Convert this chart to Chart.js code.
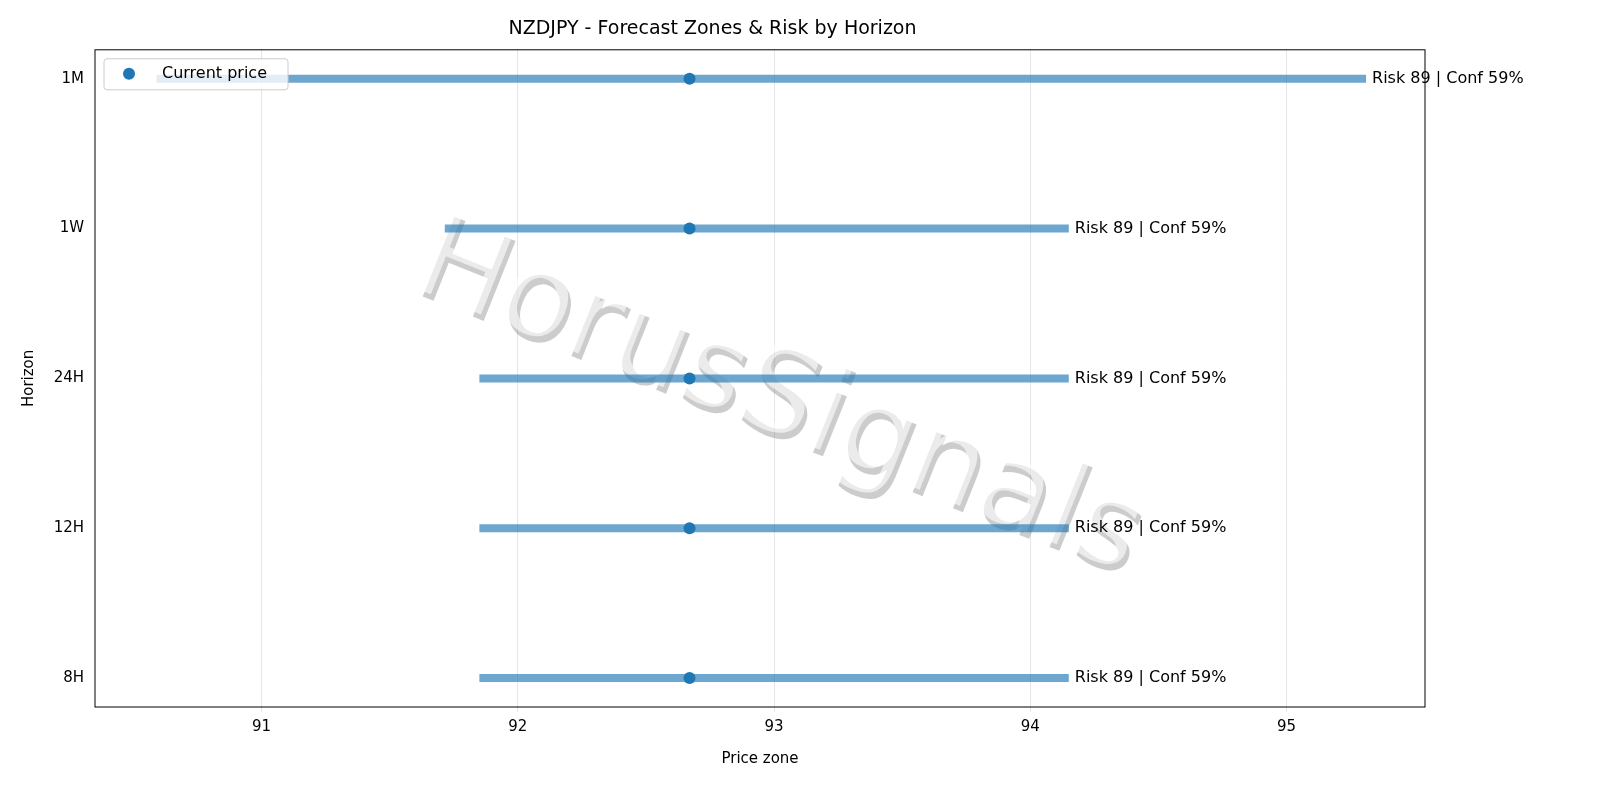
<!DOCTYPE html>
<html lang="en">
<head>
<meta charset="UTF-8">
<title>NZDJPY Forecast Zones</title>
<script src="https://cdn.jsdelivr.net/npm/chart.js"></script>
<style>
  html, body { margin: 0; padding: 0; overflow: hidden; background: #fff; }
  #chart { display: block; width: 1600px; height: 800px; }
</style>
</head>
<body>
<canvas id="chart" width="1600" height="800"></canvas>
<script>
// Data (y index 0 = 8H at the bottom)
const horizons = ['8H', '12H', '24H', '1W', '1M'];
const zoneLow = [91.85, 91.85, 91.85, 91.715, 90.59];
const zoneHigh = [94.15, 94.15, 94.15, 94.15, 95.31];
const currentPrice = [92.67, 92.67, 92.67, 92.67, 92.67];
const riskLabels = ['Risk 89 | Conf 59%', 'Risk 89 | Conf 59%', 'Risk 89 | Conf 59%', 'Risk 89 | Conf 59%', 'Risk 89 | Conf 59%'];
const xTicks = [91, 92, 93, 94, 95];

const FONT = 'DejaVu Sans';
Chart.defaults.font.family = FONT;
Chart.defaults.color = '#000';

const datasets = horizons.map((h, i) => ({
    label: h,
    data: [{x: zoneLow[i], y: i}, {x: zoneHigh[i], y: i}],
    showLine: true,
    borderColor: 'rgba(31,119,180,0.65)',
    borderWidth: 8,
    borderCapStyle: 'butt',
    pointRadius: 0,
    order: 2
}));
datasets.push({
    label: 'Current price',
    data: currentPrice.map((v, i) => ({x: v, y: i})),
    showLine: false,
    pointRadius: 6,
    pointBackgroundColor: '#1f77b4',
    pointBorderWidth: 0,
    order: 1
});

const extras = {
    id: 'extras',
    beforeDatasetsDraw(chart) {
        const {ctx} = chart;
        // watermark
        ctx.save();
        ctx.translate(778, 400);
        ctx.rotate(0.38);
        ctx.font = '118px ' + FONT;
        ctx.textAlign = 'center';
        ctx.textBaseline = 'middle';
        ctx.fillStyle = 'rgba(110,110,110,0.35)';
        ctx.fillText('HorusSignals', 5, 5);
        ctx.fillStyle = 'rgba(255,255,255,0.6)';
        ctx.fillText('HorusSignals', 0, 0);
        ctx.restore();
    },
    afterDatasetsDraw(chart) {
        const {ctx, scales: {x, y}, chartArea: a} = chart;
        ctx.save();
        ctx.font = '16px ' + FONT;
        ctx.fillStyle = '#000';
        ctx.textBaseline = 'middle';
        horizons.forEach((h, i) => {
            ctx.fillText(riskLabels[i], x.getPixelForValue(zoneHigh[i]) + 6, y.getPixelForValue(i));
        });
        // frame
        ctx.strokeStyle = '#000';
        ctx.lineWidth = 1;
        ctx.strokeRect(a.left, a.top, a.right - a.left, a.bottom - a.top);
        // legend
        ctx.fillStyle = 'rgba(255,255,255,0.8)';
        ctx.strokeStyle = '#ccc';
        ctx.beginPath();
        ctx.roundRect(a.left + 9, a.top + 9, 184, 31, 3);
        ctx.fill();
        ctx.stroke();
        ctx.fillStyle = '#1f77b4';
        ctx.beginPath();
        ctx.arc(a.left + 34, a.top + 24, 6, 0, Math.PI * 2);
        ctx.fill();
        ctx.fillStyle = '#000';
        ctx.fillText('Current price', a.left + 67, a.top + 24);
        ctx.restore();
    }
};

new Chart(document.getElementById('chart'), {
    type: 'scatter',
    data: {datasets},
    plugins: [extras],
    options: {
        responsive: false,
        devicePixelRatio: 1,
        animation: false,
        layout: {padding: {top: 0, right: 175, bottom: 0, left: 0}},
        plugins: {
            legend: {display: false},
            tooltip: {enabled: false},
            title: {display: true, text: 'NZDJPY - Forecast Zones & Risk by Horizon',
                    font: {size: 19, weight: 'normal'}, padding: {top: 18, bottom: 9}}
        },
        scales: {
            x: {
                min: 90.35, max: 95.54,
                afterBuildTicks: s => { s.ticks = xTicks.map(v => ({value: v})); },
                ticks: {font: {size: 15}, padding: 6},
                grid: {color: '#e5e5e5', drawTicks: true, tickLength: 5},
                border: {display: false},
                title: {display: true, text: 'Price zone', font: {size: 15}, padding: {top: 4, bottom: 32}},
                afterFit: s => { s.height = 93; }
            },
            y: {
                min: -0.193, max: 4.193,
                afterBuildTicks: s => { s.ticks = horizons.map((h, i) => ({value: i})); },
                ticks: {font: {size: 15}, callback: v => horizons[v]},
                grid: {display: false, drawTicks: true},
                border: {display: false},
                title: {display: true, text: 'Horizon', font: {size: 15}, padding: {top: 20}},
                afterFit: s => { s.width = 95; }
            }
        }
    }
});
</script>
</body>
</html>
